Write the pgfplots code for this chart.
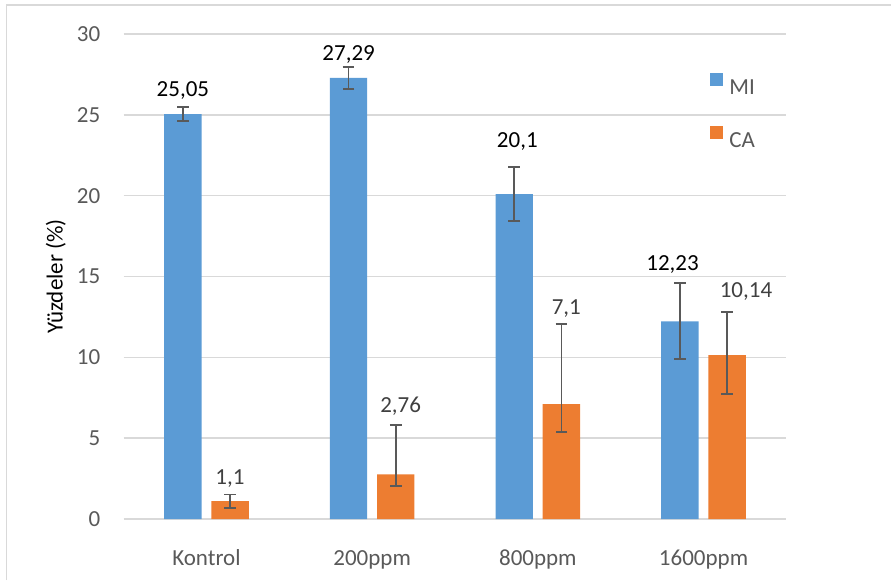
\documentclass[border=0pt]{standalone}
\usepackage{fontspec}
\setmainfont{Carlito}
\usepackage{pgfplots}
\pgfplotsset{compat=1.18}
\definecolor{miblue}{HTML}{5B9BD5}
\definecolor{caorange}{HTML}{ED7D31}
\definecolor{gridgray}{HTML}{D9D9D9}
\definecolor{tickgray}{HTML}{595959}
\definecolor{errgray}{HTML}{595959}
\definecolor{cagray}{HTML}{404040}
\begin{document}
\begin{tikzpicture}
\path[use as bounding box] (0,0) rectangle (445.5pt,290pt);
\draw[color=gridgray, line width=0.75pt] (3.35pt,0) -- (3.35pt,287.5pt) -- (445.5pt,287.5pt);
\begin{axis}[
  at={(61.8pt,30.5pt)}, anchor=south west,
  scale only axis, width=331.4pt, height=242.5pt,
  ybar=0pt, bar width=18.7pt,
  xmin=-0.5, xmax=3.5, ymin=0, ymax=30,
  xtick={0,1,2,3}, xticklabels={Kontrol,200ppm,800ppm,1600ppm},
  ytick={0,5,...,30},
  ymajorgrids, grid style={color=gridgray, line width=0.8pt},
  axis line style={draw=none},
  tick style={draw=none},
  /pgf/number format/assume math mode=true,
  font=\fontsize{11.5}{14}\selectfont,
  ticklabel style={font=\fontsize{11.5}{14}\selectfont, text=tickgray},
  yticklabel style={anchor=east, inner sep=0pt, xshift=-11.5pt},
  xticklabel style={anchor=base, inner sep=0pt, yshift=-19pt},
  ylabel={Yüzdeler (\%)},
  every axis y label/.style={at={(axis description cs:-0.1024,0.5)}, rotate=90, anchor=center, font=\fontsize{11.5}{14}\selectfont, text=black},
  legend style={at={(axis cs:3.039,25.29)}, anchor=west, draw=none, fill=none, inner sep=0pt, row sep=15.6pt, column sep=3pt,
    nodes={inner sep=0pt, text=tickgray, text height=7.4pt, text depth=0pt}},
  legend cell align=left,
  clip=false,
]
\addplot[bar shift=-11.8pt, fill=miblue, draw=none,
  legend image code/.code={\fill[miblue] (0pt,0.45pt) rectangle (6.5pt,6.95pt);},
  error bars/.cd, y dir=both, y explicit,
  error bar style={errgray, line width=0.9pt},
  error mark options={rotate=90, errgray, mark size=2.9pt, line width=0.9pt}]
  coordinates {(0,25.05) +- (0,0.42) (1,27.29) +- (0,0.69) (2,20.1) +- (0,1.66) (3,12.23) +- (0,2.35)};
\addlegendentry{MI}
\addplot[bar shift=11.8pt, fill=caorange, draw=none,
  legend image code/.code={\fill[caorange] (0pt,0.45pt) rectangle (6.5pt,6.95pt);},
  error bars/.cd, y dir=both, y explicit,
  error bar style={errgray, line width=0.9pt},
  error mark options={rotate=90, errgray, mark size=2.9pt, line width=0.9pt}]
  coordinates {(0,1.1) +- (0,0.41) (1,2.76) += (0,3.05) -= (0,0.7) (2,7.1) += (0,4.98) -= (0,1.7) (3,10.14) += (0,2.64) -= (0,2.39)};
\addlegendentry{CA}
\addplot[bar shift=0pt, draw=none, fill=none, mark=none, forget plot, nodes near coords, point meta=explicit symbolic,
  nodes near coords style={anchor=center, text=black, inner sep=0pt, text depth=0pt}]
  table[row sep=\\, meta=lab] {x y lab\\ -0.142 26.57 25,05\\ 0.858 28.80 27,29\\ 1.876 23.44 20,1\\ 2.813 15.85 12,23\\};
\addplot[bar shift=0pt, draw=none, fill=none, mark=none, forget plot, nodes near coords, point meta=explicit symbolic,
  nodes near coords style={anchor=center, text=cagray, inner sep=0pt, text depth=0pt}]
  table[row sep=\\, meta=lab] {x y lab\\ 0.142 2.62 1,1\\ 1.172 7.05 2,76\\ 2.172 13.13 7,1\\ 3.256 14.16 10,14\\};
\end{axis}
\end{tikzpicture}
\end{document}
